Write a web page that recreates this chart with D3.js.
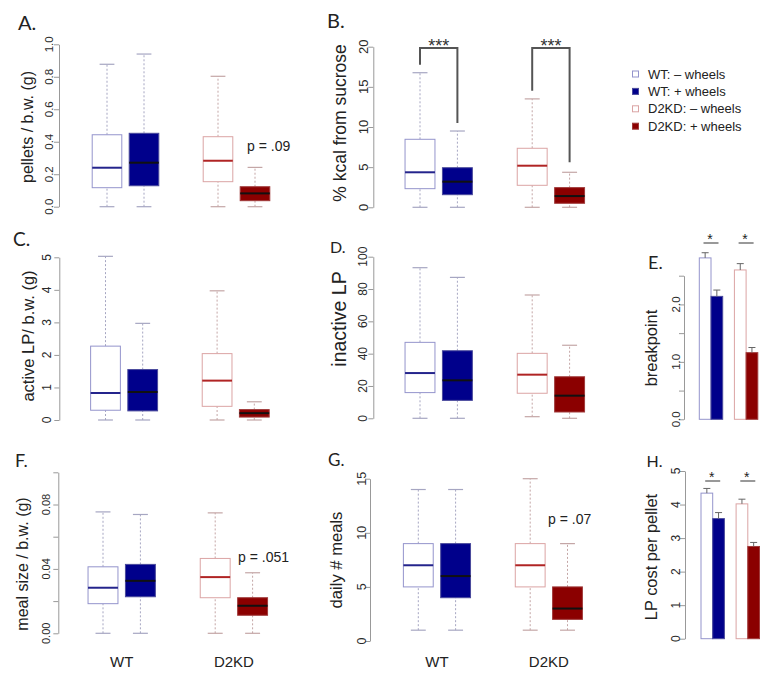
<!DOCTYPE html>
<html>
<head>
<meta charset="utf-8">
<script src="https://cdn.jsdelivr.net/npm/d3@7/dist/d3.min.js"></script>
<style>
  body { margin: 0; background: #fff; }
  svg { display: block; }
  text { font-family: "Liberation Sans", Arial, Helvetica, sans-serif; }
</style>
</head>
<body>
<svg id="chart" width="776" height="678" font-family="Liberation Sans, Arial, sans-serif"></svg>
<script>
// ---------------- DATA ----------------
const groups = ["WT: \u2013 wheels", "WT: + wheels", "D2KD: \u2013 wheels", "D2KD: + wheels"];
const xCategories = ["WT", "D2KD"];
const boxPositions = [1, 2, 4, 5];
const barLefts = [1, 2, 4, 5];

// box stats: [lower whisker, Q1, median, Q3, upper whisker]
const pelletsA = [[0, 0.117, 0.24, 0.443, 0.877], [0, 0.129, 0.271, 0.452, 0.94], [0, 0.154, 0.283, 0.431, 0.803], [0, 0.037, 0.082, 0.123, 0.242]];
const sucroseB = [[0, 2.32, 4.36, 8.47, 16.76], [0, 1.57, 3.19, 4.93, 9.5], [0, 2.74, 5.18, 7.35, 13.5], [0, 0.5, 1.4, 2.45, 4.36]];
const activeLPC = [[0, 0.30, 0.83, 2.27, 5.03], [0, 0.28, 0.86, 1.55, 2.97], [0, 0.42, 1.21, 2.04, 3.97], [0, 0.09, 0.21, 0.32, 0.56]];
const inactiveLPD = [[0, 15.9, 28, 47, 93.2], [0, 11.1, 23.5, 41.8, 87.2], [1, 15.5, 27, 40.2, 76.3], [0, 3.9, 14, 25.7, 45.2]];
const mealSizeF = [[0, 0.0184, 0.0283, 0.0413, 0.0754], [0, 0.0227, 0.0326, 0.0428, 0.0738], [0, 0.0221, 0.0349, 0.0465, 0.0748], [0, 0.0112, 0.0171, 0.0221, 0.0376]];
const dailyMealsG = [[1, 5, 7, 9, 14], [1, 4, 6, 9, 14], [1, 5, 7, 9, 15], [1, 2, 3, 5, 9]];

const breakpointE = [2.81, 2.14, 2.60, 1.16];
const breakpointErrE = [0.09, 0.11, 0.11, 0.09];
const lpCostH = [4.34, 3.58, 4.02, 2.75];
const lpCostErrH = [0.14, 0.18, 0.14, 0.12];

const ticksA = [0, 0.2, 0.4, 0.6, 0.8, 1.0];
const labelsA = [0, 0.2, 0.4, 0.6, 0.8, 1.0];
const ticksB = [0, 5, 10, 15, 20];
const ticksC = [0, 1, 2, 3, 4, 5];
const ticksD = [0, 20, 40, 60, 80, 100];
const ticksE = [0, 0.5, 1.0, 1.5, 2.0, 2.5];
const labelsE = [0, 1.0, 2.0];
const ticksF = [0, 0.02, 0.04, 0.06, 0.08, 0.10];
const labelsF = [0, 0.04, 0.08];
const ticksG = [0, 5, 10, 15];
const ticksH = [0, 1, 2, 3, 4, 5];

const pTexts = { A: "p = .09", F: "p = .051", G: "p = .07" };

// ---------------- STYLE ----------------
const fills = ["#ffffff", "#00008b", "#ffffff", "#8b0000"];
const borders = ["#9494cc", "#4a4a9c", "#dba4a4", "#a03a3a"];
const medians = ["#24248c", "#111111", "#b02424", "#111111"];
const whiskerCol = ["#a6a6c2", "#a6a6c2", "#c4a6a6", "#c4a6a6"];

const svg = d3.select("#chart");

function label(txt, x, y, size) {
  svg.append("text").attr("x", x).attr("y", y)
    .style("font-family", "Lato, 'Open Sans', sans-serif")
    .style("font-size", size + "px").attr("fill", "#222").text(txt);
}

function yAxis(cfg, y) {
  const g = svg.append("g").attr("transform", `translate(${cfg.axisX},0)`);
  g.call(d3.axisLeft(y).tickValues(cfg.ticks).tickSize(5).tickSizeOuter(0).tickFormat(() => ""));
  g.select(".domain").attr("stroke", "#999");
  g.selectAll(".tick line").attr("stroke", "#999");
  (cfg.labels || cfg.ticks).forEach(v => {
    const yy = y(v);
    svg.append("text")
      .attr("transform", `translate(${cfg.labX},${yy}) rotate(-90)`)
      .attr("text-anchor", "middle")
      .style("font-size", cfg.tickFont + "px")
      .attr("fill", "#2a2a2a")
      .text(cfg.fmt ? cfg.fmt(v) : v);
  });
  svg.append("text")
    .attr("transform", `translate(${cfg.titleX},${cfg.titleY}) rotate(-90)`)
    .attr("text-anchor", "middle")
    .style("font-size", cfg.titleFont + "px")
    .attr("fill", "#222")
    .text(cfg.title);
}

function boxPanel(cfg, stats) {
  const x = d3.scaleLinear().domain([1, 5]).range([cfg.c1, cfg.c1 + 4 * cfg.unit]);
  const y = d3.scaleLinear().domain(cfg.domain).range(cfg.yr);
  yAxis(cfg, y);
  const bw = cfg.unit * 0.8;
  const sw = bw * 0.5;
  stats.forEach((s, i) => {
    const cx = x(boxPositions[i]);
    const g = svg.append("g");
    [[s[0], s[1]], [s[3], s[4]]].forEach(([a, b]) => {
      g.append("line").attr("x1", cx).attr("x2", cx).attr("y1", y(a)).attr("y2", y(b))
        .attr("stroke", whiskerCol[i]).attr("stroke-width", 1).attr("stroke-dasharray", "2,2");
    });
    [s[0], s[4]].forEach(v => {
      g.append("line").attr("x1", cx - sw / 2).attr("x2", cx + sw / 2).attr("y1", y(v)).attr("y2", y(v))
        .attr("stroke", whiskerCol[i]).attr("stroke-width", 1.2);
    });
    g.append("rect").attr("x", cx - bw / 2).attr("width", bw)
      .attr("y", y(s[3])).attr("height", y(s[1]) - y(s[3]))
      .attr("fill", fills[i]).attr("stroke", borders[i]).attr("stroke-width", 1);
    g.append("line").attr("x1", cx - bw / 2).attr("x2", cx + bw / 2).attr("y1", y(s[2])).attr("y2", y(s[2]))
      .attr("stroke", medians[i]).attr("stroke-width", 2);
  });
  if (cfg.pText) {
    svg.append("text").attr("x", cfg.pX).attr("y", cfg.pY).style("font-size", "14px")
      .attr("fill", "#222").text(cfg.pText);
  }
  if (cfg.xLabels) {
    xCategories.forEach((c, k) => {
      svg.append("text").attr("x", x(k === 0 ? 1.5 : 4.5)).attr("y", cfg.xLabY)
        .attr("text-anchor", "middle").style("font-size", "15px").attr("fill", "#222").text(c);
    });
  }
  return { x, y };
}

function barPanel(cfg, vals, errs) {
  const x = d3.scaleLinear().domain([1, 2]).range([cfg.left, cfg.left + cfg.bw]);
  const y = d3.scaleLinear().domain(cfg.domain).range(cfg.yr);
  yAxis(cfg, y);
  const w = x(2) - x(1);
  vals.forEach((v, i) => {
    const xl = x(barLefts[i]);
    svg.append("rect").attr("x", xl).attr("width", w).attr("y", y(v)).attr("height", y(0) - y(v))
      .attr("fill", fills[i]).attr("stroke", borders[i]).attr("stroke-width", 1);
    const cx = xl + w / 2;
    svg.append("line").attr("x1", cx).attr("x2", cx).attr("y1", y(v)).attr("y2", y(v + errs[i]))
      .attr("stroke", "#666").attr("stroke-width", 1);
    svg.append("line").attr("x1", cx - 3.5).attr("x2", cx + 3.5).attr("y1", y(v + errs[i])).attr("y2", y(v + errs[i]))
      .attr("stroke", "#666").attr("stroke-width", 1);
  });
  [0, 1].forEach(k => {
    const cx = x(barLefts[2 * k] + 1);
    svg.append("line").attr("x1", cx - 7.5).attr("x2", cx + 7.5).attr("y1", cfg.sigY).attr("y2", cfg.sigY)
      .attr("stroke", "#555").attr("stroke-width", 1.2);
    svg.append("text").attr("x", cx - 1).attr("y", cfg.sigY + 0.5).attr("text-anchor", "middle")
      .style("font-size", "14px").attr("fill", "#222").text("*");
  });
}

// ---------------- PANELS ----------------
label("A.", 18, 30, 20);
boxPanel({ axisX: 59, labX: 52.5, tickFont: 11.5, ticks: ticksA, labels: labelsA, fmt: d3.format(".1f"),
  domain: [0, 1], yr: [206.7, 44.3], c1: 107, unit: 37,
  title: "pellets / b.w. (g)", titleX: 33, titleY: 127, titleFont: 16,
  pText: pTexts.A, pX: 247, pY: 151 }, pelletsA);

label("B.", 327, 28, 20);
const pB = boxPanel({ axisX: 373.3, labX: 367.5, tickFont: 13, ticks: ticksB,
  domain: [0, 20], yr: [207.3, 46.7], c1: 420, unit: 37.4,
  title: "% kcal from sucrose", titleX: 346, titleY: 123, titleFont: 17.5 }, sucroseB);
[[0, 1, 17.75, 10.5], [2, 3, 14.5, 5.6]].forEach(([i, j, lv, rv]) => {
  const x1 = pB.x(boxPositions[i]), x2 = pB.x(boxPositions[j]);
  const top = 48;
  svg.append("path")
    .attr("d", `M${x1},${pB.y(lv)}V${top}H${x2}V${pB.y(rv)}`)
    .attr("fill", "none").attr("stroke", "#555").attr("stroke-width", 2);
  svg.append("text").attr("x", (x1 + x2) / 2).attr("y", 52).attr("text-anchor", "middle")
    .style("font-size", "18px").attr("fill", "#333").text("***");
});

// legend
groups.forEach((gname, i) => {
  const yy = 74 + i * 17.4;
  svg.append("rect").attr("x", 632.5).attr("y", yy - 3).attr("width", 6).attr("height", 6)
    .attr("fill", fills[i]).attr("stroke", borders[i]).attr("stroke-width", 1);
  svg.append("text").attr("x", 648).attr("y", yy + 4.6).style("font-size", "13px").attr("fill", "#222").text(gname);
});

label("C.", 13, 246, 19);
boxPanel({ axisX: 59.3, labX: 50.5, tickFont: 12, ticks: ticksC,
  domain: [0, 5], yr: [420, 257.3], c1: 105.5, unit: 37.2,
  title: "active LP/ b.w. (g)", titleX: 34, titleY: 336, titleFont: 16.5 }, activeLPC);

label("D.", 330, 253, 16);
boxPanel({ axisX: 373.3, labX: 367, tickFont: 12, ticks: ticksD,
  domain: [0, 100], yr: [418.3, 256.7], c1: 420, unit: 37.4,
  title: "inactive LP", titleX: 346, titleY: 319, titleFont: 19.5 }, inactiveLPD);

label("E.", 648, 269, 18);
barPanel({ axisX: 684, labX: 680, tickFont: 11.5, ticks: ticksE, labels: labelsE, fmt: d3.format(".1f"),
  domain: [0, 2.5], yr: [419.3, 275.7], left: 699.3, bw: 11.7, sigY: 243,
  title: "breakpoint", titleX: 657, titleY: 348, titleFont: 16.4 }, breakpointE, breakpointErrE);

label("F.", 15, 467, 18);
boxPanel({ axisX: 58.3, labX: 50, tickFont: 11, ticks: ticksF, labels: labelsF, fmt: d3.format(".2f"),
  domain: [0, 0.1], yr: [633.3, 472.3], c1: 103, unit: 37.4,
  title: "meal size / b.w. (g)", titleX: 28, titleY: 564, titleFont: 16,
  pText: pTexts.F, pX: 238, pY: 562, xLabels: true, xLabY: 667 }, mealSizeF);

label("G.", 328, 466, 17);
boxPanel({ axisX: 370, labX: 366, tickFont: 12.5, ticks: ticksG,
  domain: [0, 15], yr: [641, 478.7], c1: 418.3, unit: 37.3,
  title: "daily # meals", titleX: 342, titleY: 560, titleFont: 16.6,
  pText: pTexts.G, pX: 548, pY: 524, xLabels: true, xLabY: 667 }, dailyMealsG);

label("H.", 646.5, 467, 16);
barPanel({ axisX: 685, labX: 680, tickFont: 12, ticks: ticksH,
  domain: [0, 5], yr: [638.7, 471], left: 701, bw: 11.7, sigY: 481,
  title: "LP cost per pellet", titleX: 657, titleY: 557, titleFont: 16.4 }, lpCostH, lpCostErrH);
</script>
</body>
</html>
